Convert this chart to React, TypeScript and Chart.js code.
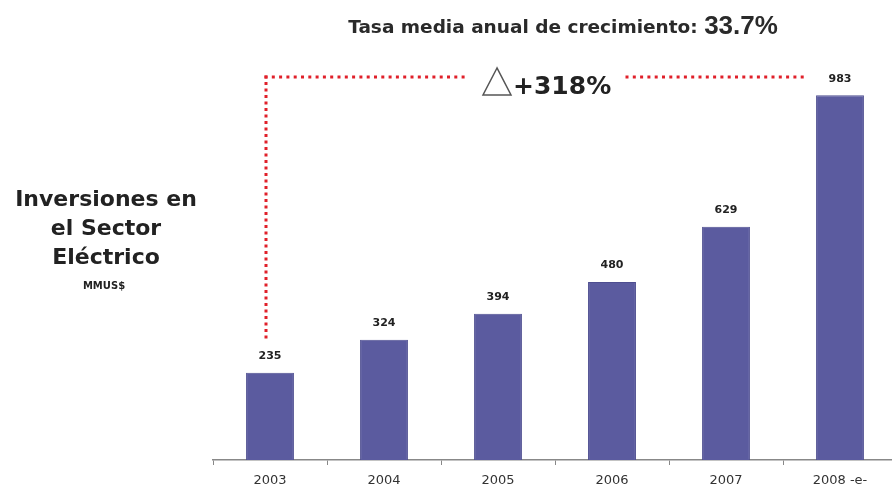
import React, { useEffect, useRef } from "react";
import { Chart, registerables } from "chart.js";

Chart.register(...registerables);

const categories = ["2003", "2004", "2005", "2006", "2007", "2008 -e-"];
const investments = [235, 324, 394, 480, 629, 983];
const titleText = "Tasa media anual de crecimiento:";
const titleRate = "33.7%";
const growthText = "+318%";
const sideLines = ["Inversiones en", "el Sector", "Eléctrico"];
const sideUnit = "MMUS$";

const WIDE = "'DejaVu Sans', Verdana, sans-serif";
const ARIAL = "Arial, 'Liberation Sans', sans-serif";

const overlay = {
  id: "overlay",
  afterDatasetsDraw(chart: any) {
    const ctx = chart.ctx;
    const meta = chart.getDatasetMeta(0);
    const area = chart.chartArea;
    ctx.save();
    // value labels
    ctx.fillStyle = "#222";
    ctx.font = `bold 11px ${WIDE}`;
    ctx.textAlign = "center";
    ctx.textBaseline = "bottom";
    meta.data.forEach((bar: any, i: number) => {
      ctx.fillText(String(investments[i]), bar.x, bar.y - 11);
    });

    // title
    ctx.textBaseline = "alphabetic";
    ctx.textAlign = "left";
    ctx.font = `bold 18.5px ${WIDE}`;
    const w1 = ctx.measureText(titleText + " ").width;
    ctx.font = `bold 26px ${ARIAL}`;
    const w2 = ctx.measureText(titleRate).width;
    const tx = 563 - (w1 + w2) / 2;
    ctx.fillStyle = "#2a2a2a";
    ctx.font = `bold 18.5px ${WIDE}`;
    ctx.fillText(titleText + " ", tx, 33);
    ctx.font = `bold 26px ${ARIAL}`;
    ctx.fillText(titleRate, tx + w1, 34);

    // side text
    ctx.textAlign = "center";
    ctx.fillStyle = "#222";
    ctx.font = `bold 22px ${WIDE}`;
    sideLines.forEach((s, i) => ctx.fillText(s, 106, 206 + i * 29));
    ctx.font = `bold 10px ${WIDE}`;
    ctx.fillText(sideUnit, 104, 289);

    // dotted red line
    const x0 = meta.data[0].x - 4;
    const yTop = area.top - 12;
    const yBot = meta.data[0].y - 32;
    ctx.fillStyle = "#e0202a";
    for (let y = yTop; y <= yBot; y += 6.5) ctx.fillRect(x0 - 1.5, y - 1.5, 3, 3);
    for (let x = x0; x <= 470; x += 7.3) ctx.fillRect(x - 1.5, yTop - 1.5, 3, 3);
    for (let x = 627; x <= 805; x += 7.3) ctx.fillRect(x - 1.5, yTop - 1.5, 3, 3);

    // triangle
    ctx.strokeStyle = "#555";
    ctx.lineWidth = 1.5;
    ctx.beginPath();
    ctx.moveTo(497, 68);
    ctx.lineTo(483, 95);
    ctx.lineTo(511, 95);
    ctx.closePath();
    ctx.stroke();
    ctx.fillStyle = "#222";
    ctx.textAlign = "left";
    ctx.font = `bold 25px ${WIDE}`;
    ctx.fillText(growthText, 513, 94);
    ctx.restore();
  },
};

export default function App() {
  const ref = useRef<HTMLCanvasElement>(null);
  useEffect(() => {
    if (!ref.current) return;
    const chart = new Chart(ref.current, {
      type: "bar",
      data: {
        labels: categories,
        datasets: [
          {
            data: investments,
            backgroundColor: "#5b5b9f",
            borderColor: "#4e4e90",
            borderWidth: 1,
            barPercentage: 0.42,
            categoryPercentage: 1,
          },
        ],
      },
      options: {
        animation: false,
        responsive: false,
        layout: { padding: { left: 213, right: 3, top: 89, bottom: 0 } },
        plugins: { legend: { display: false }, tooltip: { enabled: false }, title: { display: false } },
        scales: {
          x: {
            offset: true,
            afterFit(scale: any) {
              scale.height = 33;
            },
            border: { display: true, color: "#888", width: 1.5 },
            grid: { display: true, drawOnChartArea: false, drawTicks: true, tickLength: 5, color: "#888", offset: true },
            ticks: { color: "#333", font: { size: 13, family: WIDE }, padding: 8 },
          },
          y: { display: false, min: 0, max: 1000 },
        },
      },
      plugins: [overlay],
    });
    return () => chart.destroy();
  }, []);
  return (
    <div style={{ position: "absolute", left: 0, top: 0, width: 892, height: 493, overflow: "hidden", background: "#fff" }}>
      <canvas ref={ref} width={900} height={493} style={{ width: 900, height: 493, display: "block" }} />
    </div>
  );
}
